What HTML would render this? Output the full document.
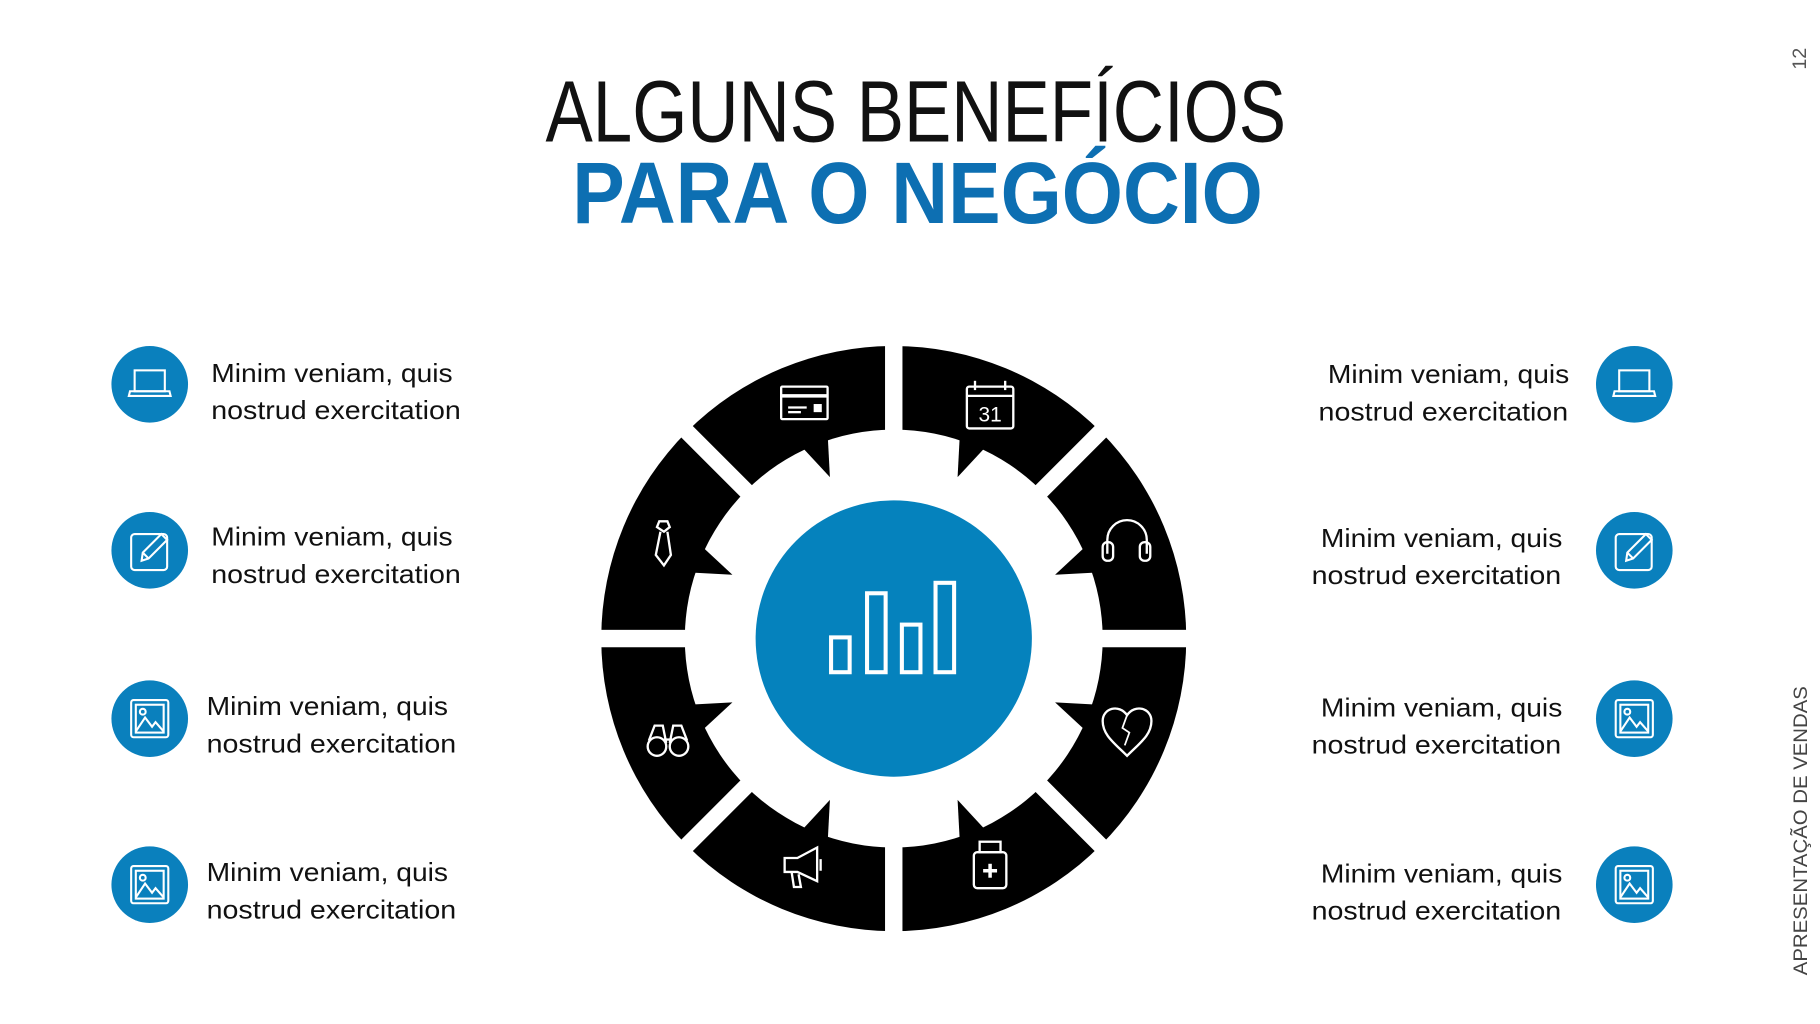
<!DOCTYPE html>
<html><head><meta charset="utf-8"><style>
html,body{margin:0;padding:0;background:#fff;overflow:hidden}
svg{display:block}
text{font-family:"Liberation Sans",sans-serif}
</style></head><body>
<svg width="1820" height="1024" viewBox="0 0 1568 882" preserveAspectRatio="none" xmlns="http://www.w3.org/2000/svg">
<rect width="1568" height="882" fill="#fff"/>
<!-- Title -->
<text x="470" y="122" font-size="75" fill="#111" textLength="638" lengthAdjust="spacingAndGlyphs">ALGUNS BENEFÍCIOS</text>
<text x="493" y="192" font-size="75" font-weight="bold" fill="#0d6fb2" textLength="595" lengthAdjust="spacingAndGlyphs">PARA O NEGÓCIO</text>
<text transform="translate(1556,60) rotate(-90)" font-size="17" fill="#555">12</text>
<text transform="translate(1557,840) rotate(-90)" font-size="17" fill="#444" textLength="249" lengthAdjust="spacingAndGlyphs">APRESENTAÇÃO DE VENDAS</text>

<!-- Ring -->
<g transform="translate(770,550)">
<circle r="252" fill="#000"/>
<circle r="180" fill="#fff"/>
<g fill="#000">
<polygon points="-57,-177 -55,-139 -80,-166"/>
<polygon points="57,-177 55,-139 80,-166"/>
<polygon points="-57,177 -55,139 -80,166"/>
<polygon points="57,177 55,139 80,166"/>
<polygon points="-177,-57 -139,-55 -166,-80"/>
<polygon points="177,-57 139,-55 166,-80"/>
<polygon points="-177,57 -139,55 -166,80"/>
<polygon points="177,57 139,55 166,80"/>
</g>
<g fill="#fff">
<rect x="-7.5" y="-260" width="15" height="520"/>
<rect x="-260" y="-7.5" width="520" height="15"/>
<rect x="-7" y="-270" width="14" height="540" transform="rotate(45)"/>
<rect x="-7" y="-270" width="14" height="540" transform="rotate(-45)"/>
</g>
<circle r="119" fill="#0582bd"/>
</g>
<!-- bars -->
<g fill="none" stroke="#fff" stroke-width="3.5">
<rect x="716" y="549" width="16" height="30"/>
<rect x="747" y="511" width="16" height="68"/>
<rect x="777" y="538" width="16" height="41"/>
<rect x="806" y="502" width="16" height="77"/>
</g>

<!-- ring icons -->
<g fill="none" stroke="#fff" stroke-width="2">
<!-- card -->
<rect x="673" y="333" width="40" height="28" rx="1"/>
<line x1="673" y1="341" x2="713" y2="341" stroke-width="3"/>
<line x1="679" y1="351" x2="695" y2="351"/><line x1="679" y1="355" x2="690" y2="355"/>
<rect x="702" y="349" width="5" height="5" fill="#fff"/>
<!-- calendar -->
<rect x="833" y="333" width="40" height="36" rx="2"/>
<line x1="833" y1="341" x2="873" y2="341"/>
<line x1="840" y1="328" x2="840" y2="336"/><line x1="866" y1="328" x2="866" y2="336"/>
<!-- headphones -->
<path d="M954,477 V465 A17,17 0 0 1 988,465 V477"/>
<rect x="950" y="467" width="9" height="16" rx="4"/>
<rect x="982" y="467" width="9" height="16" rx="4"/>
<!-- heart -->
<path d="M971,651 C960,640 950,633 950,621 C950,610 964,606 971,616 C978,606 992,610 992,621 C992,633 982,640 971,651 Z"/>
<path d="M971,616 L967,627 L973,631 L969,642" stroke-width="1.5"/>
<!-- medkit -->
<rect x="839" y="734" width="28" height="31" rx="3"/>
<rect x="844" y="725" width="18" height="9"/>
<line x1="853" y1="744" x2="853" y2="756" stroke-width="3"/><line x1="847" y1="750" x2="859" y2="750" stroke-width="3"/>
<!-- megaphone -->
<path d="M676,739 L687,739 L704,730 L704,759 L687,751 L676,751 Z"/>
<path d="M682,751 L684,764 L690,764 L688,753"/>
<line x1="707" y1="740" x2="707" y2="750"/>
<!-- binoculars -->
<circle cx="566" cy="643" r="8"/><circle cx="585" cy="643" r="8"/>
<path d="M559,638 L564,625 L571,625 L574,640 M592,638 L587,625 L580,625 L577,640"/>
<line x1="572" y1="637" x2="579" y2="637"/>
<!-- tie -->
<path d="M568,449 L575,449 L577,454 L572,458 L566,454 Z"/>
<path d="M569,458 L565,478 L572,487 L578,478 L575,458"/>
</g>
<text x="853" y="363" font-size="18" fill="#fff" text-anchor="middle">31</text>

<!-- side circles -->
<g fill="#0a80bd">
<circle cx="129" cy="331" r="33"/><circle cx="129" cy="474" r="33"/>
<circle cx="129" cy="619" r="33"/><circle cx="129" cy="762" r="33"/>
<circle cx="1408" cy="331" r="33"/><circle cx="1408" cy="474" r="33"/>
<circle cx="1408" cy="619" r="33"/><circle cx="1408" cy="762" r="33"/>
</g>
<defs>
<g id="lap" fill="none" stroke="#fff" stroke-width="1.8"><rect x="-13" y="-12" width="26" height="18"/><path d="M-17,6 H17 L18,10 H-18 Z"/></g>
<g id="pen" fill="none" stroke="#fff" stroke-width="1.8"><rect x="-16" y="-14" width="31" height="31" rx="3"/><path d="M-7,9 L-6,2 L10,-14 L15,-9 L-1,7 Z M-6,2 L-1,7"/></g>
<g id="img" fill="none" stroke="#fff" stroke-width="1.8"><rect x="-16" y="-16" width="32" height="32" rx="2"/><rect x="-12" y="-12" width="24" height="24"/><circle cx="-6" cy="-6" r="2.5"/><path d="M-12,11 L-4,-1 L2,7 L5,3 L12,11"/></g>
</defs>
<use href="#lap" x="129" y="331"/><use href="#pen" x="129" y="474"/>
<use href="#img" x="129" y="619"/><use href="#img" x="129" y="762"/>
<use href="#lap" x="1408" y="331"/><use href="#pen" x="1408" y="474"/>
<use href="#img" x="1408" y="619"/><use href="#img" x="1408" y="762"/>

<!-- texts -->
<g font-size="22" fill="#111">
<text x="182" y="329" textLength="208" lengthAdjust="spacingAndGlyphs">Minim veniam, quis</text>
<text x="182" y="361" textLength="215" lengthAdjust="spacingAndGlyphs">nostrud exercitation</text>
<text x="182" y="470" textLength="208" lengthAdjust="spacingAndGlyphs">Minim veniam, quis</text>
<text x="182" y="502" textLength="215" lengthAdjust="spacingAndGlyphs">nostrud exercitation</text>
<text x="178" y="616" textLength="208" lengthAdjust="spacingAndGlyphs">Minim veniam, quis</text>
<text x="178" y="648" textLength="215" lengthAdjust="spacingAndGlyphs">nostrud exercitation</text>
<text x="178" y="759" textLength="208" lengthAdjust="spacingAndGlyphs">Minim veniam, quis</text>
<text x="178" y="791" textLength="215" lengthAdjust="spacingAndGlyphs">nostrud exercitation</text>

<text x="1144" y="330" textLength="208" lengthAdjust="spacingAndGlyphs">Minim veniam, quis</text>
<text x="1136" y="362" textLength="215" lengthAdjust="spacingAndGlyphs">nostrud exercitation</text>
<text x="1138" y="471" textLength="208" lengthAdjust="spacingAndGlyphs">Minim veniam, quis</text>
<text x="1130" y="503" textLength="215" lengthAdjust="spacingAndGlyphs">nostrud exercitation</text>
<text x="1138" y="617" textLength="208" lengthAdjust="spacingAndGlyphs">Minim veniam, quis</text>
<text x="1130" y="649" textLength="215" lengthAdjust="spacingAndGlyphs">nostrud exercitation</text>
<text x="1138" y="760" textLength="208" lengthAdjust="spacingAndGlyphs">Minim veniam, quis</text>
<text x="1130" y="792" textLength="215" lengthAdjust="spacingAndGlyphs">nostrud exercitation</text>
</g>
</svg>
</body></html>
